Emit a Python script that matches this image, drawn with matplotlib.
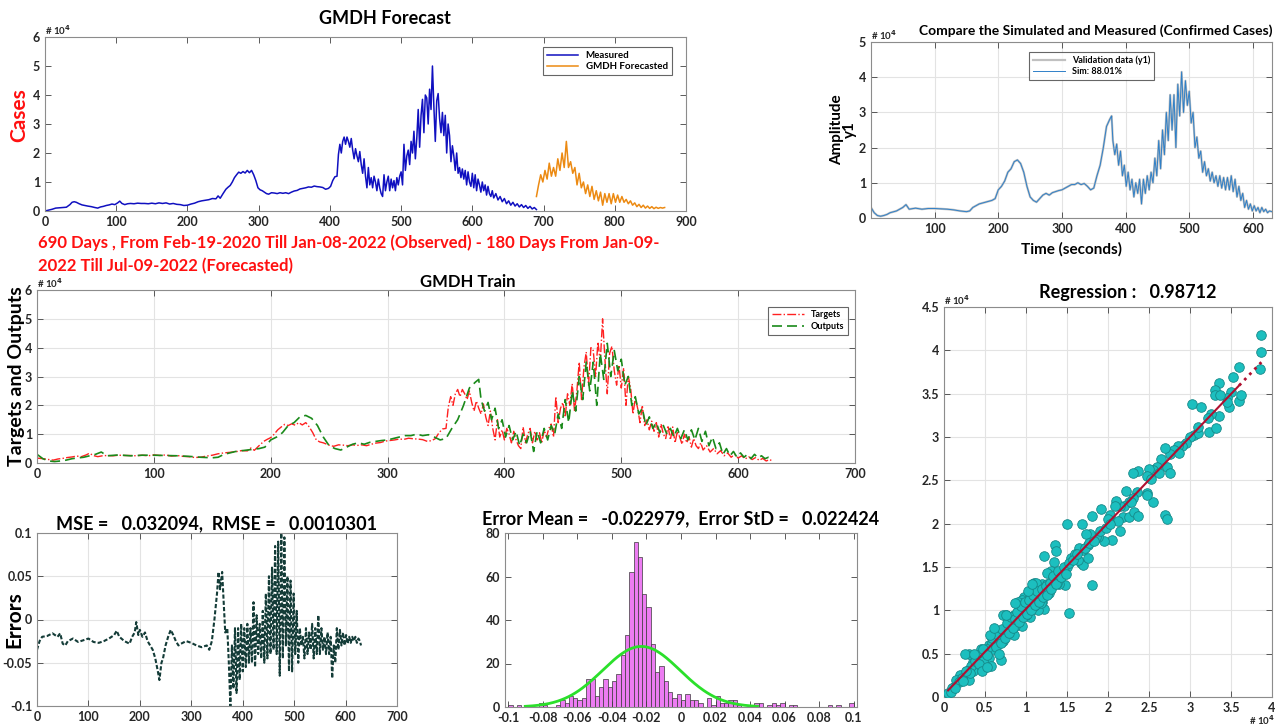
import numpy as np
import matplotlib
matplotlib.use("Agg")
import matplotlib.pyplot as plt
from matplotlib.ticker import FuncFormatter

plt.rcParams['font.family'] = ['Lato', 'DejaVu Sans']
plt.rcParams['font.weight'] = 'bold'
plt.rcParams['axes.titleweight'] = 'bold'
plt.rcParams['axes.labelweight'] = 'bold'

# ---- measured daily cases (observed, 690 days) ----
meas_day = [0, 5, 10, 15, 20, 25, 30, 35, 38, 41, 44, 48, 52, 56, 60, 65, 70, 74, 78, 82,
            86, 90, 94, 98, 102, 105, 108, 112, 116, 120, 125, 130, 135, 140, 145, 150, 155, 160, 165, 170,
            175, 180, 185, 190, 195, 200, 205, 210, 215, 220, 225, 230, 235, 240, 243, 246, 250, 254, 257, 260,
            263, 266, 269, 272, 275, 278, 281, 284, 287, 290, 293, 296, 299, 302, 305, 308, 311, 314, 318, 322,
            326, 330, 334, 338, 342, 346, 350, 354, 358, 362, 366, 370, 374, 378, 382, 386, 390, 394, 398, 401,
            404, 407, 410, 412, 414, 416, 418, 420, 422, 424, 426, 428, 430, 432, 434, 436, 438, 440, 442, 444,
            446, 448, 450, 452, 454, 456, 458, 460, 462, 464, 466, 468, 470, 472, 474, 476, 478, 480, 482, 484,
            486, 488, 490, 492, 494, 496, 498, 500, 502, 504, 506, 508, 510, 512, 514, 516, 518, 520, 522, 524,
            526, 528, 530, 532, 534, 536, 538, 540, 542, 544, 546, 548, 550, 552, 554, 556, 558, 560, 562, 564,
            566, 568, 570, 572, 574, 576, 578, 580, 582, 584, 586, 588, 590, 592, 594, 596, 598, 600, 602, 604,
            606, 608, 610, 612, 614, 616, 618, 620, 622, 624, 626, 628, 630, 633, 636, 639, 642, 645, 648, 651,
            654, 657, 660, 663, 666, 669, 672, 675, 678, 681, 684, 687, 690]
meas_val = [0, 300, 600, 1000, 1100, 1200, 1300, 2200, 3000, 3200, 3000, 2500, 2100, 1900, 1700, 1500, 1200, 1000, 1400, 1600,
            1900, 2100, 2400, 2200, 2800, 3400, 2600, 2200, 2500, 2600, 2500, 2700, 2600, 2600, 2500, 2700, 2500, 2800, 2600, 2800,
            2400, 2600, 2300, 2200, 1900, 2000, 2400, 2700, 3200, 3500, 3700, 3900, 4300, 4200, 5200, 4400, 6000, 7500, 8200, 8800,
            10000, 11500, 12500, 13400, 13000, 13600, 13100, 14000, 13200, 14000, 12500, 10500, 8000, 7300, 7000, 6500, 6000, 5800, 6300, 6200,
            6000, 6300, 6100, 6300, 6000, 6500, 6900, 7100, 7600, 7800, 8000, 8300, 8200, 8600, 8400, 8300, 8100, 7500, 7800, 8500,
            10500, 11800, 12000, 19500, 23000, 20000, 24000, 25500, 23000, 25500, 24000, 22000, 25000, 21000, 18000, 21500, 19000, 17000, 20500, 16000,
            13000, 18000, 12000, 8000, 15000, 9000, 11500, 8000, 12000, 10000, 7000, 11000, 8000, 6000, 5000, 12500, 7000, 10000, 12000, 7000,
            11000, 8000, 10500, 7000, 11500, 9000, 12000, 13500, 9000, 23000, 14000, 19000, 21000, 16000, 24000, 20000, 27500, 18000, 25000, 35000,
            22000, 33000, 38500, 27000, 40000, 39000, 30000, 42000, 35000, 50000, 36000, 24000, 38000, 40500, 32000, 27000, 34000, 26000, 33000, 20000,
            30000, 26000, 17000, 22500, 19000, 14000, 20000, 13000, 15000, 11500, 14500, 11000, 14000, 9000, 13500, 10000, 8500, 13000, 8000, 12500,
            7000, 11000, 9000, 6500, 10000, 7000, 9000, 5500, 8500, 6000, 5000, 7000, 4500, 6000, 3800, 5000, 3200, 4300, 2500, 3500,
            2000, 3000, 1700, 2500, 1400, 2200, 1200, 1900, 900, 1600, 700, 1200, 500]

# ---- GMDH forecast (180 days) ----
fc_day = [690, 693, 696, 699, 702, 705, 708, 711, 714, 717, 720, 723, 726, 729, 732, 735, 738, 741, 744, 747,
          750, 753, 756, 759, 762, 765, 768, 771, 774, 777, 780, 783, 786, 789, 792, 795, 798, 801, 804, 807,
          810, 813, 816, 819, 822, 825, 828, 831, 834, 837, 840, 843, 846, 849, 852, 855, 858, 861, 864, 867, 870]
fc_val = [5000, 9000, 12500, 10000, 14000, 11000, 16500, 12000, 15000, 12000, 18000, 14000, 20000, 15000, 24000, 15000, 17000, 13000, 15000, 9000,
          13000, 8000, 10000, 6000, 9000, 5000, 8500, 4000, 7000, 3500, 6500, 2000, 6000, 3000, 6000, 2500, 6000, 3000, 5500, 3000,
          5000, 3000, 4000, 2500, 3500, 2000, 2800, 1500, 2300, 1200, 2000, 1000, 1700, 900, 1500, 800, 1300, 900, 1200, 1000, 1200]

# ---- training: targets are the measured series from day 60 on ----
train_shift = 60

out_day = [0, 5, 10, 15, 20, 25, 30, 40, 50, 55, 60, 70, 80, 90, 100, 110, 120, 130, 140, 150,
           155, 160, 170, 180, 190, 195, 200, 205, 210, 215, 220, 225, 230, 235, 240, 245, 250, 255, 260, 265,
           270, 275, 280, 285, 290, 295, 300, 305, 310, 315, 320, 325, 330, 335, 340, 345, 350, 355, 360, 365,
           370, 375, 378, 380, 383, 386, 389, 392, 395, 398, 401, 404, 407, 410, 413, 416, 419, 422, 425, 428,
           431, 434, 437, 440, 443, 446, 449, 452, 455, 458, 461, 464, 467, 470, 473, 476, 479, 482, 485, 488,
           491, 494, 497, 500, 503, 506, 509, 512, 515, 518, 521, 524, 527, 530, 533, 536, 539, 542, 545, 548,
           551, 554, 557, 560, 563, 566, 569, 572, 575, 578, 581, 584, 587, 590, 593, 596, 599, 602, 605, 608,
           611, 614, 617, 620, 623, 626, 630]
out_val = [3000, 1500, 700, 500, 700, 1000, 1500, 2000, 3000, 3800, 2500, 2800, 2500, 2700, 2700, 2600, 2500, 2300, 2000, 1800,
           2000, 3000, 4000, 4500, 5000, 5500, 8000, 9000, 10500, 13000, 14000, 16000, 16500, 15500, 13000, 9000, 6000, 5000, 4500, 5500,
           6500, 7000, 6500, 7200, 7500, 7800, 8000, 8500, 9000, 9500, 9500, 10000, 9500, 9800, 9000, 8000, 8500, 12000, 15000, 20000,
           26000, 28000, 29000, 22000, 18000, 21000, 15000, 19000, 12000, 15000, 9000, 13000, 8000, 11000, 6000, 10000, 7000, 11000, 4000, 11000,
           7000, 12000, 8000, 13000, 10000, 17000, 12000, 22000, 14000, 25000, 18000, 30000, 22000, 35000, 25000, 35000, 20000, 38000, 29000, 41500,
           30000, 39000, 32000, 36000, 27000, 30000, 20000, 23000, 17000, 19000, 13000, 16000, 12000, 14000, 10500, 13000, 10000, 12000, 9000, 12000,
           8500, 11500, 8000, 11500, 8000, 12000, 7500, 11000, 6000, 9000, 5000, 7000, 3000, 5000, 2500, 4000, 2000, 3500, 2000, 3000,
           1500, 3000, 1800, 2500, 1500, 2000, 1800]

# ---- training errors ----
err_day = [0, 5, 10, 20, 30, 40, 45, 50, 55, 60, 70, 80, 90, 100, 110, 120, 130, 140, 150, 155,
           160, 170, 180, 185, 190, 193, 197, 200, 205, 210, 215, 220, 225, 230, 235, 238, 242, 245, 250, 255,
           260, 265, 270, 275, 280, 290, 300, 310, 320, 330, 335, 340, 345, 350, 353, 356, 360, 363, 366, 370,
           373, 376, 379, 382, 385, 388, 391, 394, 397, 400, 403, 406, 409, 412, 415, 418, 421, 424, 427, 430,
           433, 436, 439, 442, 445, 448, 451, 454, 457, 460, 463, 466, 469, 472, 475, 478, 481, 484, 487, 490,
           493, 496, 499, 502, 505, 508, 511, 514, 517, 520, 523, 526, 529, 532, 535, 538, 541, 544, 547, 550,
           553, 556, 559, 562, 565, 568, 571, 574, 577, 580, 583, 586, 589, 592, 595, 598, 601, 604, 607, 610,
           613, 616, 619, 622, 625, 628, 630]
err_val = [-0.035, -0.025, -0.02, -0.019, -0.016, -0.02, -0.016, -0.028, -0.03, -0.025, -0.022, -0.026, -0.024, -0.022, -0.026, -0.027, -0.025, -0.022, -0.018, -0.013,
           -0.02, -0.025, -0.028, -0.02, -0.015, -0.003, -0.018, -0.012, -0.02, -0.015, -0.025, -0.03, -0.035, -0.045, -0.06, -0.07, -0.05, -0.045, -0.03, -0.02,
           -0.012, -0.018, -0.025, -0.03, -0.028, -0.025, -0.027, -0.03, -0.032, -0.03, -0.035, -0.025, 0.0, 0.03, 0.055, 0.035, 0.055, 0.02, -0.015, -0.01,
           -0.05, -0.1, -0.03, -0.08, -0.01, -0.085, -0.01, -0.07, -0.005, -0.06, -0.01, -0.055, -0.005, -0.05, -0.01, -0.05, 0.02, -0.055, 0.005, -0.04,
           -0.005, -0.045, 0.01, -0.05, 0.03, -0.045, 0.05, -0.04, 0.06, -0.035, 0.085, -0.04, 0.09, -0.065, 0.1, -0.045, 0.095, -0.03, 0.05, -0.06,
           0.045, -0.06, 0.03, -0.04, 0.01, -0.05, -0.01, -0.03, -0.02, -0.045, -0.01, -0.04, -0.015, -0.035, -0.005, -0.045, -0.01, -0.04, 0.005, -0.04,
           -0.01, -0.035, -0.02, -0.04, -0.015, -0.04, -0.02, -0.068, -0.03, -0.05, -0.01, -0.035, -0.012, -0.03, -0.015, -0.03, -0.018, -0.028, -0.02, -0.027,
           -0.02, -0.025, -0.02, -0.027, -0.022, -0.025, -0.03]

# ---- error histogram (80 bins between -0.1 and 0.1) ----
hist_counts = [1, 0, 1, 0, 1, 0, 0, 2, 1, 0,
               0, 1, 3, 2, 5, 4, 3, 4, 13, 13,
               5, 9, 13, 9, 12, 15, 24, 33, 62, 76,
               69, 52, 46, 29, 16, 19, 12, 7, 4, 6,
               3, 6, 3, 3, 2, 0, 4, 1, 5, 2,
               2, 3, 3, 1, 0, 0, 0, 2, 2, 0,
               1, 2, 1, 2, 0, 1, 1, 0, 0, 0,
               0, 0, 0, 0, 1, 0, 1, 0, 0, 2]
err_mean = -0.022979
err_std = 0.022424

# ---- regression scatter: targets (x) vs outputs (y), in units of 1e4 ----
reg_x = [3.87, 3.87, 3.85, 3.60, 3.52, 3.60, 3.62, 3.50, 3.45, 3.48, 3.35, 3.30, 3.31, 3.37, 3.35, 3.25, 3.22, 3.23, 3.32, 3.03,
         3.13, 3.05, 3.10, 3.00, 2.95, 2.90, 2.85, 2.80, 2.75, 2.70, 2.65, 2.72, 2.75, 2.70, 2.72, 2.60, 2.55, 2.50, 2.47, 2.52,
         2.55, 2.47, 2.48, 2.37, 2.30, 2.35, 2.30, 2.25, 2.22, 2.18, 2.25, 2.32, 2.37, 2.20, 2.15, 2.10, 2.12, 2.15, 2.05, 2.08,
         2.03, 2.00, 1.92, 1.95, 1.88, 1.85, 1.80, 1.78, 1.73, 1.80, 1.68, 1.75, 1.70, 1.65, 1.67, 1.70, 1.75, 1.80, 1.60, 1.55,
         1.50, 1.50, 1.52, 1.45, 1.47, 1.40, 1.35, 1.36, 1.34, 1.30, 1.25, 1.22, 1.30, 1.35, 1.25, 1.20, 1.28, 1.18, 1.10, 1.12,
         1.20, 1.15, 1.10, 1.05, 1.00, 1.03, 0.98, 0.95, 0.90, 0.92, 0.90, 0.85, 0.88, 0.80, 0.75, 0.72, 0.80, 0.75, 0.70, 0.72,
         0.65, 0.60, 0.62, 0.55, 0.55, 0.60, 0.50, 0.45, 0.45, 0.40, 0.40, 0.35, 0.30, 0.25, 0.30, 0.35, 0.25, 0.30, 0.20, 0.20,
         0.15, 0.12, 0.10, 0.05, 0.57, 0.70, 1.22, 1.15, 0.95, 1.05, 0.85, 1.40, 1.42, 1.10, 0.98, 1.08, 1.18, 1.27, 0.93, 0.83,
         0.78, 0.68, 0.63, 0.58, 0.48, 0.42, 0.38, 0.33, 0.28, 0.22, 0.18, 1.00, 0.95, 1.13, 1.25, 0.87, 0.77, 0.67, 0.52, 0.47,
         1.60, 1.63, 1.90, 2.28, 2.62, 2.87, 3.10, 3.45, 0.08, 0.13, 1.33, 1.38, 1.17, 0.73, 0.62,
         0.32, 0.38, 0.43, 0.48, 0.53, 0.58, 0.63, 0.66, 0.69, 0.71, 0.74, 0.77, 0.79, 0.82, 0.84, 0.87, 0.89, 0.91, 0.94, 0.96,
         0.99, 1.01, 1.04, 1.06, 1.09, 1.11, 1.14, 1.16, 1.19, 1.21, 1.24, 1.26, 1.29, 1.31, 1.33, 1.37, 1.39, 1.43, 1.46, 1.49,
         1.53, 1.57, 1.62, 1.72, 1.77, 1.83, 1.97, 2.02, 0.27, 0.23, 0.36, 0.56, 0.61, 0.76, 0.86, 1.02, 1.07, 0.46, 0.52, 0.67]
reg_y = [4.18, 3.98, 3.78, 3.81, 3.69, 3.42, 3.48, 3.52, 3.45, 3.35, 3.62, 3.54, 3.48, 3.48, 3.24, 3.27, 3.22, 3.06, 3.10, 3.38,
         3.35, 3.02, 3.05, 3.00, 2.93, 2.90, 2.90, 2.85, 2.80, 2.87, 2.75, 2.65, 2.58, 2.10, 2.05, 2.65, 2.62, 2.63, 2.55, 2.52,
         2.25, 2.35, 2.33, 2.61, 2.59, 2.37, 2.30, 2.25, 2.38, 2.08, 2.08, 2.14, 2.09, 2.20, 2.20, 2.26, 2.03, 1.92, 1.81, 2.20,
         2.10, 2.05, 2.17, 1.80, 1.85, 1.85, 1.80, 1.88, 1.88, 2.09, 2.00, 1.75, 1.70, 1.72, 1.55, 1.52, 1.60, 1.29, 1.60, 1.60,
         1.50, 2.00, 0.97, 1.45, 1.29, 1.40, 1.75, 1.69, 1.56, 1.45, 1.43, 1.63, 1.30, 1.35, 1.25, 1.30, 1.20, 1.20, 1.32, 1.32,
         1.10, 1.15, 1.10, 1.18, 1.00, 1.05, 1.15, 1.12, 1.10, 1.00, 0.90, 0.95, 0.85, 0.90, 0.95, 0.95, 0.80, 0.75, 0.75, 0.65,
         0.70, 0.72, 0.60, 0.60, 0.45, 0.55, 0.50, 0.55, 0.45, 0.45, 0.35, 0.40, 0.50, 0.50, 0.30, 0.30, 0.25, 0.20, 0.25, 0.20,
         0.20, 0.12, 0.10, 0.05, 0.36, 0.43, 1.02, 1.00, 0.82, 0.92, 0.72, 1.30, 1.42, 1.05, 1.05, 1.12, 1.08, 1.22, 0.98, 0.88,
         0.85, 0.72, 0.68, 0.62, 0.50, 0.48, 0.40, 0.36, 0.30, 0.22, 0.17, 0.95, 1.00, 1.18, 1.30, 0.82, 0.80, 0.62, 0.55, 0.42,
         1.65, 1.58, 1.92, 2.25, 2.58, 2.82, 3.12, 3.40, 0.06, 0.10, 1.38, 1.32, 1.22, 0.70, 0.66,
         0.28, 0.42, 0.38, 0.55, 0.48, 0.68, 0.58, 0.72, 0.62, 0.78, 0.68, 0.85, 0.74, 0.92, 0.80, 0.90, 0.98, 0.86, 1.05, 0.92,
         1.10, 0.96, 1.12, 1.00, 1.18, 1.06, 1.22, 1.10, 1.25, 1.15, 1.28, 1.18, 1.32, 1.25, 1.40, 1.30, 1.45, 1.38, 1.50, 1.42,
         1.55, 1.58, 1.65, 1.72, 1.78, 1.80, 1.95, 2.00, 0.30, 0.18, 0.50, 0.72, 0.80, 0.95, 1.08, 1.22, 1.30, 0.30, 0.35, 0.50]

W, H = 1279, 727
fig = plt.figure(figsize=(W / 100, H / 100), dpi=100)
fig.patch.set_facecolor('white')


def box(l, t, r, b):
    return [l / W, 1 - b / H, (r - l) / W, (b - t) / H]


def matlab_style(ax, grid=False):
    for s in ax.spines.values():
        s.set_color('#8c8c8c')
        s.set_linewidth(0.8)
    ax.tick_params(direction='in', top=True, right=True, length=4, width=0.6,
                   color='#404040', labelsize=9, labelcolor='#262626')
    if grid:
        ax.grid(True, color='#e3e3e3', linewidth=0.8)
        ax.set_axisbelow(True)


e4 = FuncFormatter(lambda v, p: f'{v / 1e4:g}')


def exp_label(ax, x=0.0, y=1.0, ha='left', va='bottom'):
    ax.text(x, y, '# 10$^{4}$', transform=ax.transAxes, ha=ha, va=va,
            fontsize=7, color='#262626', fontweight='bold')


# ---- GMDH Forecast ----
ax1 = fig.add_axes(box(45, 37, 686, 211))
ax1.plot(meas_day, meas_val, color='#1010c0', lw=1.1, label='Measured')
ax1.plot(fc_day, fc_val, color='#ec8a12', lw=1.1, label='GMDH Forecasted')
ax1.set_xlim(0, 900)
ax1.set_ylim(0, 60000)
ax1.set_xticks(range(0, 901, 100))
ax1.set_yticks(range(0, 60001, 10000))
ax1.yaxis.set_major_formatter(e4)
matlab_style(ax1)
exp_label(ax1)
ax1.text(0.53, 1.06, 'GMDH Forecast', transform=ax1.transAxes, ha='center', va='bottom',
         fontsize=13, fontweight='bold')
ax1.set_ylabel('Cases', color='#ff1010', fontsize=15)
ax1.yaxis.set_label_coords(-0.024, 0.55)
leg = ax1.legend(loc='upper right', fontsize=7, frameon=True, fancybox=False, edgecolor='#404040',
                 handlelength=3.2, borderpad=0.4, labelspacing=0.25, bbox_to_anchor=(0.985, 0.97))
leg.get_frame().set_linewidth(0.8)

fig.text(38 / W, 1 - 243 / H, '690 Days , From Feb-19-2020 Till Jan-08-2022 (Observed) - 180 Days From Jan-09-',
         color='#ff1010', fontsize=12, ha='left', va='center', fontweight='bold')
fig.text(38 / W, 1 - 266 / H, '2022 Till Jul-09-2022 (Forecasted)',
         color='#ff1010', fontsize=12, ha='left', va='center', fontweight='bold')

# ---- Compare simulated / measured ----
ax2 = fig.add_axes(box(871, 42, 1272, 218))
ax2.plot(out_day, out_val, color='#c0c0c0', lw=1.6, label='Validation data (y1)')
ax2.plot(out_day, out_val, color='#2f80c8', lw=0.7, label='Sim: 88.01%')
ax2.set_xlim(0, 630)
ax2.set_ylim(0, 50000)
ax2.set_xticks(range(100, 601, 100))
ax2.set_yticks(range(0, 50001, 10000))
ax2.yaxis.set_major_formatter(e4)
matlab_style(ax2, grid=True)
exp_label(ax2)
ax2.text(0.56, 1.03, 'Compare the Simulated and Measured (Confirmed Cases)', transform=ax2.transAxes,
         ha='center', va='bottom', fontsize=10, fontweight='bold')
ax2.set_xlabel('Time (seconds)', fontsize=11)
ax2.xaxis.set_label_coords(0.5, -0.135)
ax2.set_ylabel('Amplitude\ny1', fontsize=11, linespacing=0.9)
ax2.yaxis.set_label_coords(-0.034, 0.5)
leg = ax2.legend(loc='upper center', fontsize=6.5, frameon=True, fancybox=False, edgecolor='#404040',
                 handlelength=3.6, borderpad=0.4, labelspacing=0.25, bbox_to_anchor=(0.55, 0.97))
leg.get_frame().set_linewidth(0.8)

# ---- GMDH Train ----
tgt_day = [d - train_shift for d in meas_day if d >= train_shift]
tgt_val = [v for d, v in zip(meas_day, meas_val) if d >= train_shift]
ax3 = fig.add_axes(box(37, 290, 855, 463))
ax3.plot(tgt_day, tgt_val, color='#ff2020', lw=1.0, ls='-.', label='Targets')
ax3.plot(out_day, out_val, color='#1a8a1a', lw=1.2, ls=(0, (6, 3)), label='Outputs')
ax3.set_xlim(0, 700)
ax3.set_ylim(0, 60000)
ax3.set_xticks(range(0, 701, 100))
ax3.set_yticks(range(0, 60001, 10000))
ax3.yaxis.set_major_formatter(e4)
matlab_style(ax3, grid=True)
exp_label(ax3)
ax3.text(0.527, 1.0, 'GMDH Train', transform=ax3.transAxes, ha='center', va='bottom',
         fontsize=12, fontweight='bold')
ax3.set_ylabel('Targets and Outputs', fontsize=14)
ax3.yaxis.set_label_coords(-0.0145, 0.5)
leg = ax3.legend(loc='upper right', fontsize=6.5, frameon=True, fancybox=False, edgecolor='#404040',
                 handlelength=3.5, borderpad=0.4, labelspacing=0.3, bbox_to_anchor=(0.997, 0.93))
leg.get_frame().set_linewidth(0.8)

# ---- Errors ----
ax4 = fig.add_axes(box(37, 533, 397, 706))
ax4.plot(err_day, err_val, color='#143c38', lw=1.5, ls=(0, (2, 1)))
ax4.set_xlim(0, 700)
ax4.set_ylim(-0.1, 0.1)
ax4.set_xticks(range(0, 701, 100))
ax4.set_yticks([-0.1, -0.05, 0, 0.05, 0.1])
ax4.yaxis.set_major_formatter(FuncFormatter(lambda v, p: f'{v:g}'))
matlab_style(ax4, grid=True)
ax4.set_title('MSE =   0.032094,  RMSE =   0.0010301', fontsize=13, pad=3)
ax4.set_ylabel('Errors', fontsize=15)
ax4.yaxis.set_label_coords(-0.036, 0.5)

# ---- Error histogram ----
edges = np.linspace(-0.1, 0.1, len(hist_counts) + 1)
bw = edges[1] - edges[0]
ax5 = fig.add_axes(box(505, 533, 857, 707))
ax5.bar(edges[:-1], hist_counts, width=bw, align='edge', color='#ec7cf2', edgecolor='#3a3a3a', linewidth=0.5)
gx = np.linspace(err_mean - 3 * err_std, err_mean + 3 * err_std, 200)
gy = sum(hist_counts) * bw / (err_std * np.sqrt(2 * np.pi)) * np.exp(-0.5 * ((gx - err_mean) / err_std) ** 2)
ax5.plot(gx, gy, color='#2be02b', lw=2)
ax5.set_xlim(-0.102, 0.102)
ax5.set_ylim(0, 80)
ax5.set_xticks(np.round(np.arange(-0.1, 0.1001, 0.02), 2))
ax5.set_yticks(range(0, 81, 20))
ax5.xaxis.set_major_formatter(FuncFormatter(lambda v, p: f'{v:g}'))
matlab_style(ax5)
ax5.set_title('Error Mean =   -0.022979,  Error StD =   0.022424', fontsize=13, pad=6)

# ---- Regression ----
rx = np.array(reg_x) * 1e4
ry = np.array(reg_y) * 1e4
ax6 = fig.add_axes(box(944, 307, 1272, 697))
ax6.scatter(rx, ry, s=48, color='#1cbfbf', edgecolor='#168888', linewidth=0.6, zorder=3)
k, c = np.polyfit(rx, ry, 1)
xs = np.linspace(rx.min(), 3.6e4, 50)
ax6.plot(xs, k * xs + c, color='#b01030', lw=1.5, zorder=4)
xd = np.linspace(3.6e4, rx.max(), 10)
ax6.plot(xd, k * xd + c, color='#b01030', lw=2, ls=':', zorder=4)
ax6.set_xlim(0, 40000)
ax6.set_ylim(0, 45000)
ax6.set_xticks(np.arange(0, 40001, 5000))
ax6.set_yticks(np.arange(0, 45001, 5000))
ax6.xaxis.set_major_formatter(e4)
ax6.yaxis.set_major_formatter(e4)
matlab_style(ax6, grid=True)
exp_label(ax6)
exp_label(ax6, x=1.01, y=-0.058, ha='right', va='center')
ax6.text(0.56, 1.015, 'Regression :   0.98712', transform=ax6.transAxes, ha='center', va='bottom',
         fontsize=13, fontweight='bold')

fig.savefig('out.png', dpi=100)
